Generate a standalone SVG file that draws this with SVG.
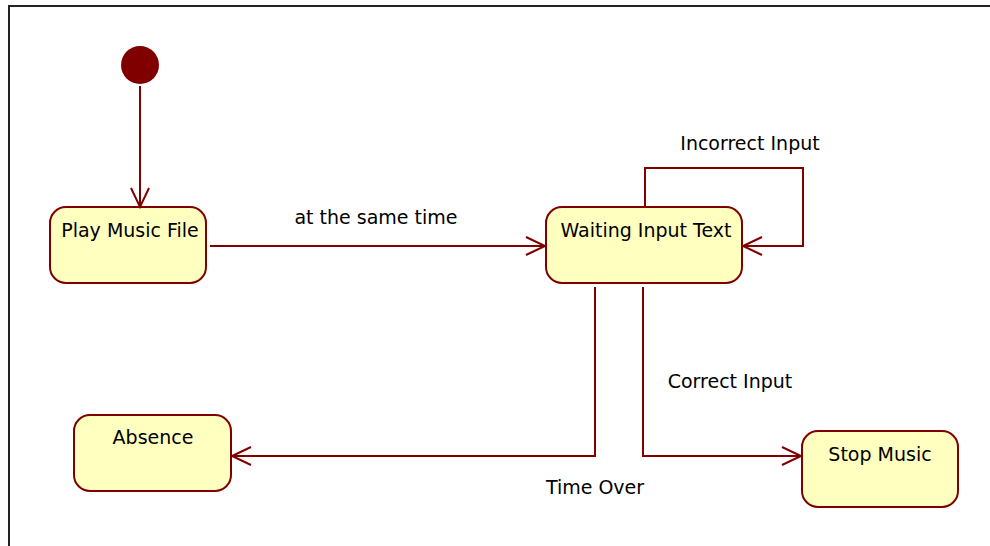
<svg xmlns="http://www.w3.org/2000/svg" width="990" height="546" viewBox="0 0 990 546">
<style>
.state{fill:#FFFFC0;stroke:#800000;stroke-width:2}
.lbl{font-family:"DejaVu Sans",Verdana,sans-serif;font-size:19px;fill:#000}
.conn{fill:none;stroke:#800000;stroke-width:2;marker-end:url(#open)}
</style>
<defs>
<marker id="open" markerUnits="userSpaceOnUse" markerWidth="24" markerHeight="24" refX="20" refY="11" orient="auto">
<path d="M1,2 L20,11 L1,20" fill="none" stroke="#800000" stroke-width="2"/>
</marker>
</defs>
<rect width="990" height="546" fill="#fff"/>
<path d="M9,546 V6 H990" fill="none" stroke="#222" stroke-width="2"/>
<g id="initial"><circle cx="140" cy="65" r="19" fill="#800000"/></g>
<g id="play"><rect class="state" x="50" y="207" width="156" height="76" rx="16"/><text class="lbl" x="130" y="237" text-anchor="middle">Play Music File</text></g>
<g id="waiting"><rect class="state" x="546" y="207" width="196" height="76" rx="16"/><text class="lbl" x="646" y="237" text-anchor="middle">Waiting Input Text</text></g>
<g id="absence"><rect class="state" x="74" y="415" width="157" height="76" rx="16"/><text class="lbl" x="153" y="444" text-anchor="middle">Absence</text></g>
<g id="stop"><rect class="state" x="802" y="431" width="156" height="76" rx="16"/><text class="lbl" x="880" y="461" text-anchor="middle">Stop Music</text></g>
<g id="connectors">
<path class="conn" d="M140,86 V207"/>
<path class="conn" d="M210,246 H545"/>
<path class="conn" d="M645,207 V168 H803 V246 H743"/>
<path class="conn" d="M595,287 V456 H232"/>
<path class="conn" d="M643,287 V456 H801"/>
<text class="lbl" x="376" y="224" text-anchor="middle">at the same time</text>
<text class="lbl" x="750" y="150" text-anchor="middle">Incorrect Input</text>
<text class="lbl" x="730" y="388" text-anchor="middle">Correct Input</text>
<text class="lbl" x="595" y="494" text-anchor="middle">Time Over</text>
</g>
</svg>
